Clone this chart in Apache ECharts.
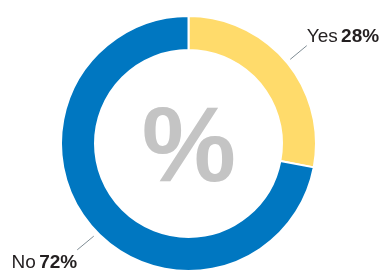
<!DOCTYPE html>
<html>
<head>
<meta charset="utf-8">
<script src="https://cdn.jsdelivr.net/npm/echarts@6/dist/echarts.min.js"></script>
<style>
  html, body { margin: 0; padding: 0; background: #fff; }
  #chart { width: 382px; height: 271px; }
</style>
</head>
<body>
<div id="chart"></div>
<script>
const categories = ['Yes', 'No'];
const values = [28, 72];
const colors = ['#FFDB6B', '#0077C1'];
const centerText = '%';

const chart = echarts.init(document.getElementById('chart'));

// Yes label sits above its line end, No label below
const labelPads = [[0, 0, 18, 0], [26, 0, 0, 0]];
// small nudge of each leader line + label
const lineNudge = [[0, 0], [7, 8.5]];

const pieData = categories.map((name, i) => ({
  name,
  value: values[i],
  itemStyle: { color: colors[i] },
  label: { padding: labelPads[i] }
}));

// push the start of each leader line a little away from the ring
function shiftLine(params) {
  const pts = params.labelLinePoints;
  if (!pts || pts.length < 2) return {};
  const [ox, oy] = lineNudge[params.dataIndex] || [0, 0];
  const moved = pts.map(p => [p[0] + ox, p[1] + oy]);
  const [x0, y0] = moved[0];
  const [x1, y1] = moved[1];
  const len = Math.hypot(x1 - x0, y1 - y0) || 1;
  const gap = 4.5;
  const p0 = [x0 + (x1 - x0) / len * gap, y0 + (y1 - y0) / len * gap];
  const end = moved[moved.length - 1];
  return {
    x: end[0],
    y: end[1],
    labelLinePoints: [p0].concat(moved.slice(1))
  };
}

const option = {
  animation: false,
  graphic: [
    {
      type: 'text',
      x: 189,
      y: 152,
      style: {
        text: centerText,
        x: 0,
        y: 0,
        fill: '#C4C4C4',
        font: 'bold 106px "Liberation Sans", Arial, sans-serif',
        textAlign: 'center',
        textVerticalAlign: 'middle'
      }
    }
  ],
  series: [
    {
      type: 'pie',
      center: [188.5, 143.5],
      radius: [93.5, 127.5],
      startAngle: 90,
      clockwise: true,
      silent: true,
      itemStyle: { borderColor: '#fff', borderWidth: 2 },
      label: {
        show: true,
        position: 'outside',
        distanceToLabelLine: 0,
        overflow: 'none',
        formatter: '{n|{b}} {p|{d}%}',
        rich: {
          n: { fontFamily: '"Liberation Sans", Arial, sans-serif', fontSize: 19, color: '#231F20' },
          p: { fontFamily: '"Liberation Sans", Arial, sans-serif', fontSize: 19, fontWeight: 'bold', color: '#231F20' }
        }
      },
      labelLine: {
        show: true,
        length: 26,
        length2: 0,
        lineStyle: { color: '#7F8C94', width: 1 }
      },
      labelLayout: shiftLine,
      data: pieData
    }
  ]
};

chart.setOption(option);
</script>
</body>
</html>
